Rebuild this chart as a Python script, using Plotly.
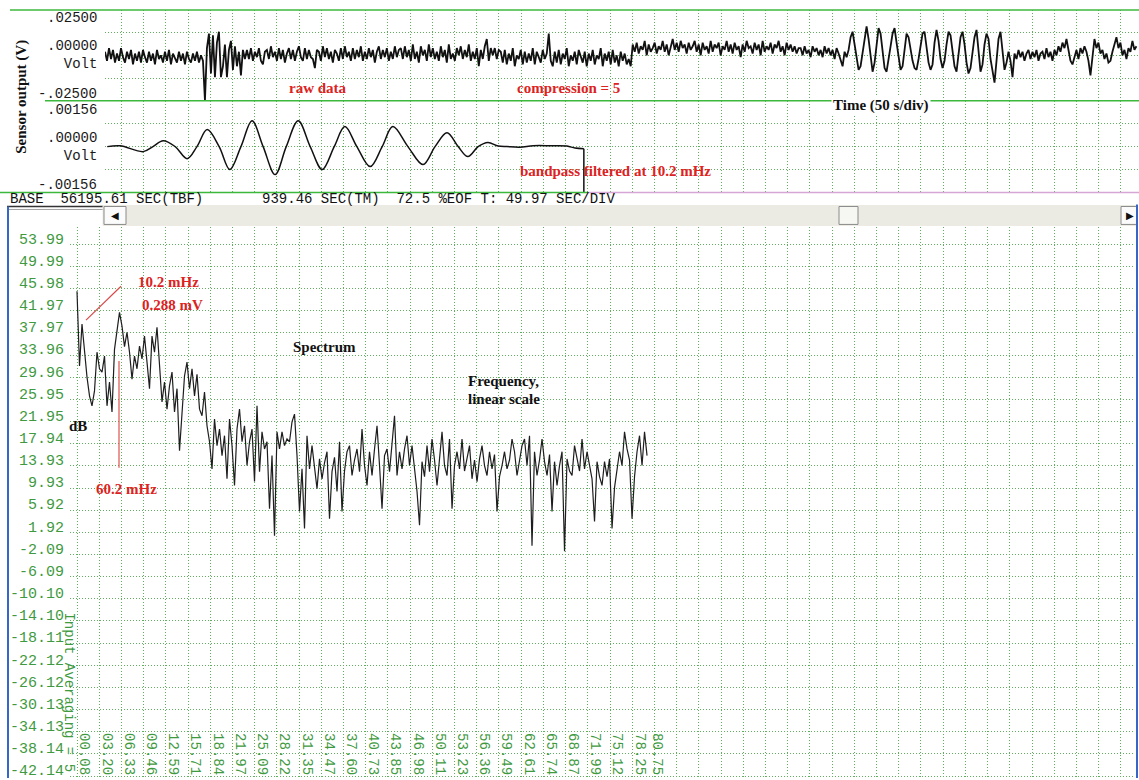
import plotly.graph_objects as go

W, H = 1139, 780

# ---------------- data ----------------
RAW_DT_S = 4.5  # seconds between raw samples
RAW_MV = (
    [2, -3, 4, -2, 3, -4, 1, -3, 4, -1,
     -4, 2, -2, 3, -5, 1, -3, 2, -4, 3,
     -1, -4, 2, -3, 1, -5, 3, -2, 0, -4,
     2, -3, 3, -5, 1, -2, -4, 2, -3, 1,
     -5, 2, -2, -4, 1, -3, 2, -4, 0, -3]
    + [-25]
    + [4, 12, -10, 11, -12, 7, 13, -12, -6, 6, -12, 3, 8, -8, 5, -6, 2, -11, 3, -2]
    + [3, -2, 4, -3, 2, -1, 4, -3, -5, 2,
       3, -2, 5, -1, 2, -3, 4, -2, 3, -4,
       1, 4, -2, 3, -3, 2, 5, -1, -3, 4,
       -2, 3, -1, -2, -7, 3, 2, -3, 5, -1,
       4, -2, 2, -4, 3, 1, -3, 4, -2, 5,
       -1, 2, -3, 4, -2, 3, -1, 5, -3, 2,
       -2, 4, -1, 3, -4, 2, 5, -2, 3, -1,
       4, -3, 2, -2, 5, -1, 3]
    + [4, -2, 5, -1, 3, -3, 6, -2, 2, -4,
       5, 0, 3, -3, 6, -1, 4, -2, 2, -3,
       5, -1, 3, -4, 6, -2, 1, -3, 4, 0,
       5, -2, 3, -1, 6, -3, 2, -2, 4, -6,
       3, -2, 5, 9, -3, 4, 0, 4, -2, 3]
    + [2, -4, 3, -5, 1, -3, 4, -6, 0, -2,
       3, -5, 2, -4, 1, -3, 4, -5, 2, -1,
       -4, 3, -2, 1, 12, -3, -6, 2, -4, 3,
       -5, 1, -2, 4, -6, 0, -3, 2, -5, 3,
       -1, -4, 2, -6, 1, -3, 3, -5, 0, -2,
       4, -6, 1, -3, 2, -5, 3, -4, 0, -6,
       2, -3, 1, -5, -2]
    + [-6]
    + [6, 2, 7, 1, 5, 3, 8, 0, 6, 2,
       4, 7, 1, 5, 3, 8, 2, 6, 0, 5,
       9, 3, 7, 2, 8, 4, 6, 1, 7, 3,
       5, 8, 2, 6, 0, 7, 3, 5, 1, 8,
       2, 6, 4, 7, 0, 5, 3, 8, 2, 6,
       1, 7, 3, 5, -1, 6, 2, 8, 4, 5,
       1, 7, 3, 6, 0, 8, 2, 5, 3, 7,
       1, 6, 4, 8, 2, 5, 0, 7, 3, 6,
       2, 5, 1, 4]
    + [4, 0, 5, 1, 3, -1, 5, 2, 4, 0,
       3, -1, 5, 1, 4, 0, 3, -2, 4, 1,
       -2, -6, 2, -1]
    + [3, 10, 13, 5, -3, -8, -6, 2, 11, 16,
       9, -2, -9, -4, 6, 15, 12, 2, -7, -9,
       -3, 5, 12, 15, 7, -2, -8, -6, 4, 12,
       10, 3, -3, -7, -8, -2, 6, 12, 13, 5,
       -4, -8, -5, 7, 14, 8, -2, -7, -3, 6,
       13, 11, 2, -6, -9, 1, 10, 13, 6, -4,
       -10, -7, 3, 10, 14, 4, -9, -5, 6, 12,
       9, -2, -10, -15, -3, 9, 13, 2, -8, -4,
       2, -3, -12]
    + [1, -2, 3, -1, 2, -3, 1, 3, -2, 2,
       -1, 3, -3, 1, 2, -2, 4, -1, 2, -3,
       3, 0, 5, 2, 7, 4, 9, 2, -3, -5,
       -1, 3, -2, 4, 1, 5, 2, -3, -11, -2,
       9, 4, 7, 1, 3, -2, 1, -4, -3, 2,
       6, 10, 4, 7, 0, 3, -2, 4, 2, 8,
       3, 5]
)

FILT_T_S = [5, 34, 86, 108, 131, 158, 185, 207, 230, 257, 281, 306, 331, 356,
            383, 408, 435, 462, 489, 516, 540, 567, 597, 624, 648, 682, 716,
            743, 770, 795, 817, 840, 862, 885, 905, 934, 964, 1002, 1040,
            1058, 1078]
FILT_MV = [0.0, 0.03, -0.17, 0.0, 0.2, 0.0, -0.41, 0.0, 0.58, 0.0, -0.78, 0.0,
           0.88, 0.0, -0.95, 0.0, 0.88, 0.0, -0.78, 0.0, 0.68, 0.0, -0.68, 0.0,
           0.68, 0.0, -0.61, 0.0, 0.47, 0.0, -0.34, 0.0, 0.14, 0.02, 0.0, -0.02,
           0.03, 0.03, 0.02, -0.05, -0.07]
FILT_END_MV = -1.56

SPEC_F0 = 0.08
SPEC_DF = 0.352
SPEC_DB = [
    45.5, 32.0, 39.6, 34.5, 30.0, 26.6, 24.8, 27.5, 34.5, 31.5,
    30.9, 33.8, 24.8, 29.1, 23.7, 35.0, 38.7, 41.7, 39.2, 35.5,
    38.1, 34.5, 29.6, 33.8, 31.5, 35.6, 33.3, 37.4, 32.7, 27.9,
    37.4, 34.5, 39.0, 31.5, 25.5, 29.1, 24.2, 28.4, 30.9, 23.7,
    27.9, 16.7, 24.2, 30.2, 32.7, 27.9, 31.5, 26.6, 30.5, 24.2,
    23.0, 27.3, 21.2, 18.3, 13.4, 22.4, 17.6, 20.6, 15.8, 19.4,
    11.6, 22.4, 17.6, 10.4, 20.6, 24.2, 18.3, 21.2, 14.0, 18.3,
    20.6, 11.1, 24.8, 12.9, 20.1, 17.0, 18.3, 6.2, 15.8, 1.3,
    20.1, 17.0, 20.1, 17.6, 18.8, 18.3, 21.9, 23.3, 15.8, 5.7,
    13.4, 2.6, 19.4, 13.4, 17.6, 14.0, 9.8, 15.2, 11.6, 14.5,
    16.5, 4.4, 12.9, 15.5, 9.3, 18.3, 5.7, 13.0, 16.5, 17.6,
    12.2, 15.0, 17.0, 12.9, 20.6, 14.0, 10.4, 16.5, 12.2, 17.0,
    21.2, 14.0, 6.2, 15.8, 17.0, 12.9, 18.0, 23.0, 12.2, 16.5,
    13.4, 17.0, 19.4, 14.0, 17.6, 13.0, 9.3, 3.2, 14.7, 12.0,
    17.6, 12.9, 18.8, 15.0, 10.4, 15.2, 20.1, 14.0, 12.2, 18.8,
    6.2, 14.0, 16.5, 13.4, 18.8, 13.0, 15.2, 17.6, 11.6, 15.0,
    11.1, 15.2, 17.6, 14.0, 12.2, 16.5, 13.4, 16.0, 5.7, 12.0,
    14.0, 16.5, 13.4, 15.0, 18.8, 16.5, 12.2, 15.0, 17.6, 18.8,
    14.0, 19.4, -0.5, 16.5, 12.2, 15.0, 18.8, 14.7, 12.2, 16.0,
    5.7, 14.7, 10.4, 14.0, 16.5, -1.5, 15.2, 13.0, 12.2, 17.6,
    15.2, 13.0, 18.8, 13.4, 16.5, 14.0, 11.6, 3.9, 14.7, 12.0,
    10.4, 14.7, 12.0, 15.2, 2.6, 10.0, 13.4, 16.5, 14.0, 20.1,
    17.0, 15.0, 4.4, 12.0, 16.5, 19.4, 14.0, 20.1, 15.8,
]

SPEC_Y_LABELS = ["53.99", "49.99", "45.98", "41.97", "37.97", "33.96", "29.96",
                 "25.95", "21.95", "17.94", "13.93", "9.93", "5.92", "1.92",
                 "-2.09", "-6.09", "-10.10", "-14.10", "-18.11", "-22.12",
                 "-26.12", "-30.13", "-34.13", "-38.14", "-42.14"]
FREQ_LABELS = ["00.08", "03.20", "06.33", "09.46", "12.59", "15.71", "18.84",
               "21.97", "25.09", "28.22", "31.35", "34.47", "37.60", "40.73",
               "43.85", "46.98", "50.11", "53.23", "56.36", "59.49", "62.61",
               "65.74", "68.87", "71.99", "75.12", "78.25", "80.75"]
RAW_LABEL_VALUES = [0.025, 0.0, -0.025]
RAW_LABELS = [".02500", ".00000<br>Volt", "-.02500"]
FILT_LABEL_VALUES = [0.00156, 0.0, -0.00156]
FILT_LABELS = [".00156", ".00000<br>Volt", "-.00156"]
INFO_LINE = ("BASE  56195.61 SEC(TBF)       939.46 SEC(TM)  72.5 %EOF T: 49.97 SEC/DIV")

# ---------------- styles ----------------
MONO = "Liberation Mono"
SERIF = "Liberation Serif"
GREEN_LINE = "#3cb83c"
GRID = "rgb(95,175,95)"
GDASH = "1px,2px"
LABEL_GREEN = "#3f9a3f"
RED = "#dd2222"
BLUE = "#3566c8"

def X(px):
    return px / W

def Y(py):
    return 1 - py / H

PX_PER_S = 22.21 / 50.0
T_MAX = (W - 105) / PX_PER_S
PX_PER_F = 22.21 / 3.127
F_LEFT = SPEC_F0 - (77 - 70) / PX_PER_F
F_RIGHT = SPEC_F0 + (1134 - 77) / PX_PER_F

raw_t = [i * RAW_DT_S for i in range(len(RAW_MV))]
raw_v = [v / 1000.0 for v in RAW_MV]
filt_v = [v / 1000.0 for v in FILT_MV]
spec_f = [SPEC_F0 + j * SPEC_DF for j in range(len(SPEC_DB))]
freq_vals = [float(s) for s in FREQ_LABELS]
db_vals = [float(s) for s in SPEC_Y_LABELS]

fig = go.Figure()
fig.add_trace(go.Scatter(x=raw_t, y=raw_v, xaxis="x", yaxis="y", mode="lines",
                         line=dict(color="#111111", width=1.8), hoverinfo="skip"))
fig.add_trace(go.Scatter(x=FILT_T_S, y=filt_v, xaxis="x4", yaxis="y2", mode="lines",
                         line=dict(color="#111111", width=1.5, shape="spline", smoothing=1.0),
                         hoverinfo="skip"))
fig.add_trace(go.Scatter(x=[FILT_T_S[-1], FILT_T_S[-1]], y=[filt_v[-1], FILT_END_MV / 1000.0],
                         xaxis="x4", yaxis="y2", mode="lines",
                         line=dict(color="#111111", width=1.5), hoverinfo="skip"))
fig.add_trace(go.Scatter(x=spec_f, y=SPEC_DB, xaxis="x2", yaxis="y3", mode="lines",
                         line=dict(color="#1e1e1e", width=1.2), hoverinfo="skip"))
fig.add_trace(go.Scatter(x=[freq_vals[0]], y=[None], xaxis="x3", yaxis="y3",
                         mode="markers", marker=dict(opacity=0), hoverinfo="skip"))

time_axis = dict(domain=[X(105), 1], range=[0, T_MAX], showticklabels=False, ticks="",
                 showgrid=True, gridcolor=GRID, griddash=GDASH, gridwidth=1,
                 tick0=36.97, dtick=50, zeroline=False, showline=False, fixedrange=True)

fig.update_layout(
    width=W, height=H, margin=dict(l=0, r=0, t=0, b=0),
    paper_bgcolor="white", plot_bgcolor="white", showlegend=False,
    xaxis=dict(anchor="y", **time_axis),
    xaxis4=dict(anchor="y2", **time_axis),
    yaxis=dict(domain=[Y(101), Y(10)], range=[-0.025, 0.025], anchor="x",
               tickvals=[-0.0125, 0, 0.0125], showticklabels=False, ticks="",
               showgrid=True, gridcolor=GRID, griddash=GDASH, zeroline=False),
    yaxis2=dict(domain=[Y(193), Y(101)], range=[-0.00156, 0.00156], anchor="x4",
                tickvals=[-0.00078, 0, 0.00078], showticklabels=False, ticks="",
                showgrid=True, gridcolor=GRID, griddash=GDASH, zeroline=False),
    xaxis2=dict(domain=[X(70), X(1134)], range=[F_LEFT, F_RIGHT], anchor="y3",
                tick0=SPEC_F0, dtick=3.127, showticklabels=False, ticks="",
                showgrid=True, gridcolor=GRID, griddash=GDASH, zeroline=False,
                showline=False),
    xaxis3=dict(overlaying="x2", anchor="free", position=Y(734), side="bottom",
                range=[F_LEFT, F_RIGHT], tickmode="array", tickvals=freq_vals,
                ticktext=FREQ_LABELS, tickangle=90, ticks="", showgrid=False,
                zeroline=False, showline=False, ticklabelshift=8,
                ticklabeloverflow="allow",
                tickfont=dict(family=MONO, size=14, color=LABEL_GREEN)),
    yaxis3=dict(domain=[0, Y(228)], range=[-42.5, 57.06], anchor="x2",
                tickmode="array", tickvals=db_vals, ticktext=SPEC_Y_LABELS, ticks="",
                showgrid=True, gridcolor=GRID, griddash=GDASH, zeroline=False,
                showline=False, ticklabelshift=-6, ticklabelstandoff=5,
                ticklabeloverflow="allow",
                tickfont=dict(family=MONO, size=15, color=LABEL_GREEN)),
)

shapes = []
def hline(x0, x1, y, color, width=1.6, dash="solid"):
    shapes.append(dict(type="line", xref="paper", yref="paper", x0=X(x0), x1=X(x1),
                       y0=Y(y), y1=Y(y), line=dict(color=color, width=width, dash=dash),
                       layer="above"))
def vline(x, y0, y1, color, width=1.6):
    shapes.append(dict(type="line", xref="paper", yref="paper", x0=X(x), x1=X(x),
                       y0=Y(y0), y1=Y(y1), line=dict(color=color, width=width),
                       layer="above"))
def rect(x0, y0, x1, y1, fill, line=None):
    shapes.append(dict(type="rect", xref="paper", yref="paper", x0=X(x0), x1=X(x1),
                       y0=Y(y1), y1=Y(y0), fillcolor=fill,
                       line=dict(color=line or fill, width=1), layer="above"))

hline(10, 1139, 10, GREEN_LINE)
hline(45, 1139, 101, GREEN_LINE)
hline(0, 588, 193, GREEN_LINE)
hline(588, 1139, 193, "#d6a6d6")
# info bar underline + scrollbar
hline(7, 103, 207, "#333333", 1.5)
hline(7, 103, 210, "#a0a0a0", 1)
rect(103, 206, 1137, 226, "#ecebe3")
rect(104, 207, 126, 225, "#fbfbfb", "#8a8a8a")
rect(839, 207, 858, 225, "#f6f6f2", "#8a8a8a")
rect(1121, 207, 1137, 225, "#fbfbfb", "#8a8a8a")
# window borders
vline(8, 207, 780, BLUE, 2)
vline(1137, 205, 780, BLUE, 2)
# red pointers
shapes.append(dict(type="line", xref="paper", yref="paper", x0=X(86), y0=Y(321),
                   x1=X(121), y1=Y(287), line=dict(color="#d84a4a", width=1.2), layer="above"))
vline(119, 362, 469, "#e05050", 1.2)

annotations = []
def text(t, x, y, color="#111111", size=15, family=SERIF, xanchor="center",
         yanchor="middle", **kw):
    annotations.append(dict(text=t, x=X(x), y=Y(y), xref="paper", yref="paper",
                            showarrow=False, xanchor=xanchor, yanchor=yanchor,
                            font=dict(family=family, size=size, color=color), **kw))

for v, lab, shift in zip(RAW_LABEL_VALUES, RAW_LABELS, [-8, 0, 7]):
    annotations.append(dict(text=lab, x=X(99), y=v, xref="paper", yref="y", yshift=shift,
                            showarrow=False, xanchor="right", yanchor="middle", align="right",
                            font=dict(family=MONO, size=14, color="#1a1a1a")))
for v, lab, shift in zip(FILT_LABEL_VALUES, FILT_LABELS, [-9, 0, 8]):
    annotations.append(dict(text=lab, x=X(99), y=v, xref="paper", yref="y2", yshift=shift,
                            showarrow=False, xanchor="right", yanchor="middle", align="right",
                            font=dict(family=MONO, size=14, color="#1a1a1a")))

text("<b>Sensor output (V)</b>", 22, 97, size=15, textangle=-90)
text("<b>raw data</b>", 318, 88, RED)
text("<b>compression = 5</b>", 568, 88, RED)
text("<b>Time (50 s/div)</b>", 881, 106, bgcolor="white", borderpad=1)
text("<b>bandpass filtered at 10.2 mHz</b>", 615, 171, RED)
text(INFO_LINE.replace(" ", "\u00a0"), 8, 200, "#111111", 14, MONO, xanchor="left")
text("\u25c0", 115, 216, "#111111", 10, "DejaVu Sans")
text("\u25b6", 1130, 216, "#111111", 10, "DejaVu Sans")
text("<b>10.2 mHz</b>", 168, 283, RED)
text("<b>0.288 mV</b>", 172, 306, RED)
text("<b>Spectrum</b>", 324, 348)
text("<b>Frequency,</b>", 466, 382, xanchor="left")
text("<b>linear scale</b>", 466, 400, xanchor="left")
text("<b>dB</b>", 78, 427)
text("<b>60.2 mHz</b>", 127, 490, RED)
text("Input Averaging = 5", 69, 612, LABEL_GREEN, 14, MONO, yanchor="top", textangle=90)

fig.update_layout(shapes=shapes, annotations=annotations)
fig.write_html("out.html", config={"displayModeBar": False},
               post_script="document.body.style.margin='0px';document.body.style.overflow='hidden';")
